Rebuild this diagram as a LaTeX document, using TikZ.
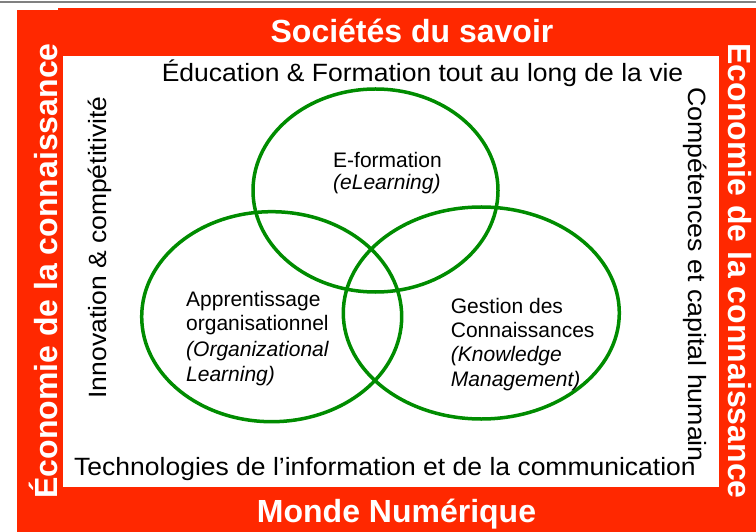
\documentclass[tikz,border=0pt]{standalone}
\usepackage{fontspec}
\setmainfont{Liberation Sans}
\usepackage{graphicx}
\definecolor{framered}{RGB}{255,40,0}
\definecolor{venngreen}{RGB}{0,140,0}
\begin{document}
\begin{tikzpicture}[x=1bp,y=-1bp,
  title/.style={text=white, font=\fontsize{32bp}{38bp}\selectfont\bfseries, inner sep=0, anchor=base},
  side/.style={font=\fontsize{25bp}{30bp}\selectfont, inner sep=0, anchor=base},
  innertxt/.style={font=\fontsize{21bp}{25bp}\selectfont, inner sep=0, anchor=base west},
  innerit/.style={innertxt, font=\fontsize{21bp}{25bp}\selectfont\itshape},
  venn/.style={draw=venngreen, line width=3.5bp}
]
\useasboundingbox (0,0) rectangle (756,532);
\fill[white] (0,0) rectangle (756,532);
\draw[gray, line width=1.5bp] (0,2) -- (756,2);
% red frame
\fill[framered] (17,10) rectangle (63,532);
\fill[framered] (58,8) rectangle (756,56);
\fill[framered] (719,8) rectangle (756,532);
\fill[framered] (17,487) rectangle (756,532);
% Venn ellipses
\draw[venn] (375.5,190.5) ellipse [x radius=122.5bp, y radius=101.5bp];
\draw[venn] (271.7,316.7) ellipse [x radius=130bp, y radius=105bp];
\draw[venn] (481.3,313) ellipse [x radius=138bp, y radius=106bp];
% frame titles
\node[title] (top) at (412,43) {Sociétés du savoir};
\node[title] (bottom) at (396.5,522) {Monde Numérique};
\node[title, rotate=90] (left) at (57,271) {Économie de la connaissance};
\node[title, rotate=-90] (right) at (728,271) {Economie de la connaissance};
% side texts
\node[side] (edu) at (422.5,82) {\scalebox{1.06}[1]{Éducation \& Formation tout au long de la vie}};
\node[side] (tic) at (385,475) {\scalebox{1.06}[1]{Technologies de l’information et de la communication}};
\node[side, rotate=90] (inno) at (106,247.5) {\scalebox{1.06}[1]{Innovation \& compétitivité}};
\node[side, rotate=-90] (comp) at (688,274.5) {\scalebox{1.07}[1]{Compétences et capital humain}};
% inner texts
\node[innertxt] (ef1) at (333,168) {E-formation};
\node[innerit] (ef2) at (333,189.5) {(eLearning)};
\node[innertxt] (ap1) at (186,306.7) {Apprentissage};
\node[innertxt] (ap2) at (186,330.7) {organisationnel};
\node[innerit] (ap3) at (186,356.7) {(Organizational};
\node[innerit] (ap4) at (186,381.7) {Learning)};
\node[innertxt] (gc1) at (450.7,313.3) {Gestion des};
\node[innertxt] (gc2) at (450.7,337.3) {Connaissances};
\node[innerit] (gc3) at (450.7,361.7) {(Knowledge};
\node[innerit] (gc4) at (450.7,386.7) {Management)};
\end{tikzpicture}
\end{document}
